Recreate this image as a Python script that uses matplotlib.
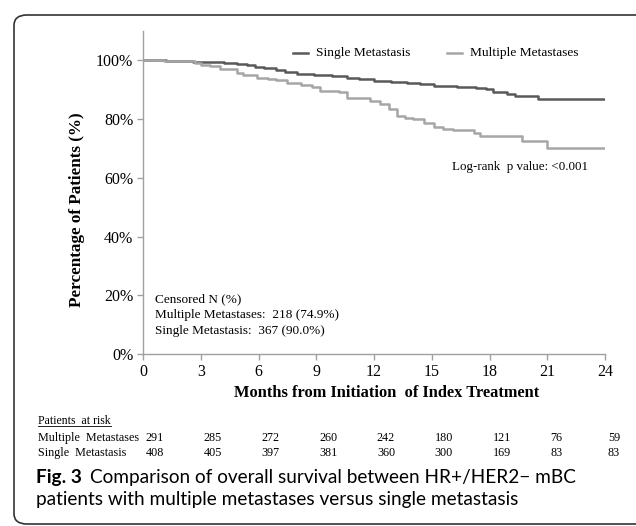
import numpy as np
import matplotlib.pyplot as plt
import matplotlib.transforms as mtransforms
from matplotlib.patches import FancyBboxPatch
from matplotlib.lines import Line2D

# KM step data (months, % surviving)
single_t = [0, 1.2, 2.6, 4.2, 4.9, 5.4, 5.8, 6.3, 6.9, 7.4, 8.0, 8.9, 9.8, 10.6, 11.2,
            12.0, 12.9, 13.7, 14.4, 15.1, 16.3, 17.3, 17.8, 18.2, 18.9, 19.3, 20.5, 24]
single_s = [100, 99.8, 99.6, 99.2, 98.6, 98.3, 97.9, 97.3, 96.6, 96.2, 95.5, 94.9, 94.6, 94.1, 93.6,
            92.9, 92.6, 92.4, 92.0, 91.2, 91.0, 90.6, 90.1, 89.2, 88.6, 88.0, 87.0, 87.0]

multi_t = [0, 1.1, 2.7, 3.0, 3.5, 4.0, 4.9, 5.2, 5.9, 6.5, 6.9, 7.5, 8.2, 8.8, 9.2, 10.2,
           10.6, 11.8, 12.3, 12.8, 13.2, 13.6, 14.0, 14.6, 15.1, 15.6, 16.1, 17.2, 17.5, 19.7, 21.0, 24]
multi_s = [100, 99.7, 99.0, 98.4, 98.0, 97.1, 95.8, 94.9, 94.1, 93.7, 93.3, 92.4, 91.5, 91.0, 89.6, 89.2,
           87.3, 86.1, 85.0, 83.3, 81.2, 80.5, 79.9, 78.5, 77.3, 76.6, 76.2, 75.1, 74.4, 72.7, 70.2, 70.2]

months = [0, 3, 6, 9, 12, 15, 18, 21, 24]
yticks = [0, 20, 40, 60, 80, 100]
risk_multi = [291, 285, 272, 260, 242, 180, 121, 76, 59]
risk_single = [408, 405, 397, 381, 360, 300, 169, 83, 83]

dark = '#595959'
light = '#a6a6a6'
axcol = '#a0a0a0'
serif = 'Liberation Serif'

W, H = 636, 526
fig = plt.figure(figsize=(W / 100, H / 100), dpi=100)

def fx(px):
    return px / W

def fy(py):
    return 1 - py / H

# rounded frame (right side runs off the image)
frame = FancyBboxPatch((fx(14) + 0.02, fy(524) + 0.02), 1.2, fy(15) - fy(524) - 0.04,
                       boxstyle='round,pad=0.02,rounding_size=0.02',
                       transform=fig.transFigure, fc='none', ec='#333333', lw=1.2)
fig.patches.append(frame)

ax = fig.add_axes([fx(143), fy(354), fx(605) - fx(143), fy(31) - fy(354)])
ax.step(single_t, single_s, where='post', color=dark, lw=1.8)
ax.step(multi_t, multi_s, where='post', color=light, lw=1.8)

ax.set_xlim(0, 24)
ax.set_ylim(0, 110)
ax.set_xticks(months)
ax.set_xticklabels([str(m) for m in months], fontfamily=serif, fontsize=11.5)
ax.set_yticks(yticks)
ax.set_yticklabels([f'{v}%' for v in yticks], fontfamily=serif, fontsize=11.5)
ax.tick_params(axis='both', color=axcol, length=4, width=1, direction='out', pad=3)
for s in ['top', 'right']:
    ax.spines[s].set_visible(False)
for s in ['left', 'bottom']:
    ax.spines[s].set_color(axcol)
    ax.spines[s].set_linewidth(1)

fig.text(fx(387), fy(393), 'Months from Initiation  of Index Treatment', ha='center', va='center',
         fontfamily=serif, fontsize=11.8, fontweight='bold')
fig.text(fx(77), fy(210), 'Percentage of Patients (%)', ha='center', va='center', rotation=90,
         fontfamily=serif, fontsize=12.3, fontweight='bold')

# legend
fig.add_artist(Line2D([fx(293), fx(308)], [fy(53), fy(53)], color=dark, lw=1.8))
fig.text(fx(316), fy(53), 'Single Metastasis', va='center', fontfamily=serif, fontsize=9.6)
fig.add_artist(Line2D([fx(447), fx(462)], [fy(53), fy(53)], color=light, lw=1.8))
fig.text(fx(470), fy(53), 'Multiple Metastases', va='center', fontfamily=serif, fontsize=9.6)

fig.text(fx(452), fy(167), 'Log-rank  p value: <0.001', va='center', fontfamily=serif, fontsize=9.4)
fig.text(fx(155), fy(299), 'Censored N (%)', va='center', fontfamily=serif, fontsize=9.5)
fig.text(fx(155), fy(315), 'Multiple Metastases:  218 (74.9%)', va='center', fontfamily=serif, fontsize=9.5)
fig.text(fx(155), fy(331), 'Single Metastasis:  367 (90.0%)', va='center', fontfamily=serif, fontsize=9.5)

# patients at risk table
t_head = fig.text(fx(38), fy(421), 'Patients  at risk', va='center', fontfamily=serif, fontsize=8.5)
fig.text(fx(38), fy(438), 'Multiple  Metastases', va='center', fontfamily=serif, fontsize=8.7)
fig.text(fx(38), fy(453), 'Single  Metastasis', va='center', fontfamily=serif, fontsize=8.7)
trans = mtransforms.blended_transform_factory(ax.transData, fig.transFigure)
for m, a, b in zip(months, risk_multi, risk_single):
    ax.text(m + 0.15, fy(438), str(a), transform=trans, va='center', fontfamily=serif, fontsize=8.7, clip_on=False)
    ax.text(m + 0.15, fy(453), str(b), transform=trans, va='center', fontfamily=serif, fontsize=8.7, clip_on=False)

fig.canvas.draw()
bb = t_head.get_window_extent().transformed(fig.transFigure.inverted())
fig.add_artist(Line2D([bb.x0, bb.x1], [bb.y0 + 0.002, bb.y0 + 0.002], color='black', lw=0.6))

# caption
cap1 = fig.text(fx(36), fy(477), 'Fig. 3', va='center', fontfamily='Lato', fontsize=13.7, fontweight='bold')
fig.canvas.draw()
cb = cap1.get_window_extent()
fig.text((cb.x1 + 8) / W, fy(477), 'Comparison of overall survival between HR+/HER2\u2212 mBC', va='center',
         fontfamily='Lato', fontsize=13.7)
fig.text(fx(36), fy(500), 'patients with multiple metastases versus single metastasis', va='center',
         fontfamily='Lato', fontsize=13.7)

fig.savefig('out.png', dpi=100)
